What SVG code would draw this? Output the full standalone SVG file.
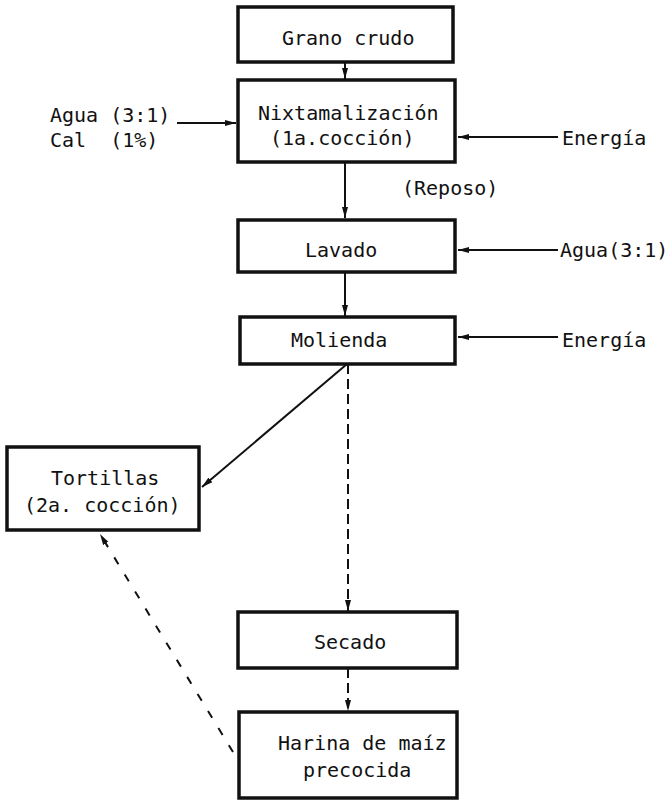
<svg xmlns="http://www.w3.org/2000/svg" width="670" height="800" viewBox="0 0 670 800">
<defs>
<marker id="ah" markerUnits="userSpaceOnUse" markerWidth="12" markerHeight="8" refX="11" refY="4" orient="auto">
<path d="M0,1 L11,4 L0,7 Z" fill="#111"/>
</marker>
<style>
.box{fill:#fff;stroke:#111;stroke-width:3.5}
.t{font-family:"DejaVu Sans Mono","Liberation Mono",monospace;font-size:20px;fill:#111;white-space:pre}
.c{fill:none;stroke:#111;stroke-width:2}
.d{fill:none;stroke:#111;stroke-width:2;stroke-dasharray:10 5}
.d2{fill:none;stroke:#111;stroke-width:2;stroke-dasharray:8 12}
</style>
</defs>
<rect width="670" height="800" fill="#fff"/>
<g id="connectors">
<line class="c" x1="345" y1="62" x2="345" y2="79" marker-end="url(#ah)"/>
<line class="c" x1="177" y1="123" x2="236" y2="123" marker-end="url(#ah)"/>
<line class="c" x1="558" y1="137" x2="458" y2="137" marker-end="url(#ah)"/>
<line class="c" x1="345" y1="162" x2="345" y2="218" marker-end="url(#ah)"/>
<line class="c" x1="558" y1="250" x2="458" y2="250" marker-end="url(#ah)"/>
<line class="c" x1="345" y1="272" x2="345" y2="316" marker-end="url(#ah)"/>
<line class="c" x1="558" y1="337" x2="458" y2="337" marker-end="url(#ah)"/>
<line class="c" x1="347" y1="364" x2="202" y2="487" marker-end="url(#ah)"/>
<line class="d" x1="348" y1="364" x2="348" y2="611" marker-end="url(#ah)"/>
<line class="d" x1="348" y1="668" x2="348" y2="711" marker-end="url(#ah)"/>
<line class="d2" x1="233" y1="752" x2="100" y2="534" marker-end="url(#ah)"/>
</g>
<g id="grano">
<rect class="box" x="238" y="7" width="215" height="55"/>
<text class="t" x="282" y="45">Grano crudo</text>
</g>
<g id="nixtamalizacion">
<rect class="box" x="238" y="80" width="217" height="82"/>
<text class="t" x="258" y="120">Nixtamalización</text>
<text class="t" x="270" y="145">(1a.cocción)</text>
</g>
<g id="agua-cal">
<text class="t" x="50" y="122">Agua (3:1)</text>
<text class="t" x="50" y="147">Cal  (1%)</text>
</g>
<g id="energia1">
<text class="t" x="562" y="145">Energía</text>
</g>
<g id="reposo">
<text class="t" x="402" y="195">(Reposo)</text>
</g>
<g id="lavado">
<rect class="box" x="238" y="220" width="217" height="52"/>
<text class="t" x="305" y="257">Lavado</text>
</g>
<g id="agua2">
<text class="t" x="560" y="257">Agua(3:1)</text>
</g>
<g id="molienda">
<rect class="box" x="240" y="317" width="215" height="47"/>
<text class="t" x="291" y="347">Molienda</text>
</g>
<g id="energia2">
<text class="t" x="562" y="347">Energía</text>
</g>
<g id="tortillas">
<rect class="box" x="7" y="447" width="192" height="83"/>
<text class="t" x="51" y="485">Tortillas</text>
<text class="t" x="24" y="512">(2a. cocción)</text>
</g>
<g id="secado">
<rect class="box" x="238" y="612" width="219" height="56"/>
<text class="t" x="314" y="649">Secado</text>
</g>
<g id="harina">
<rect class="box" x="239" y="712" width="218" height="86"/>
<text class="t" x="278" y="750">Harina de maíz</text>
<text class="t" x="303" y="777">precocida</text>
</g>
</svg>
